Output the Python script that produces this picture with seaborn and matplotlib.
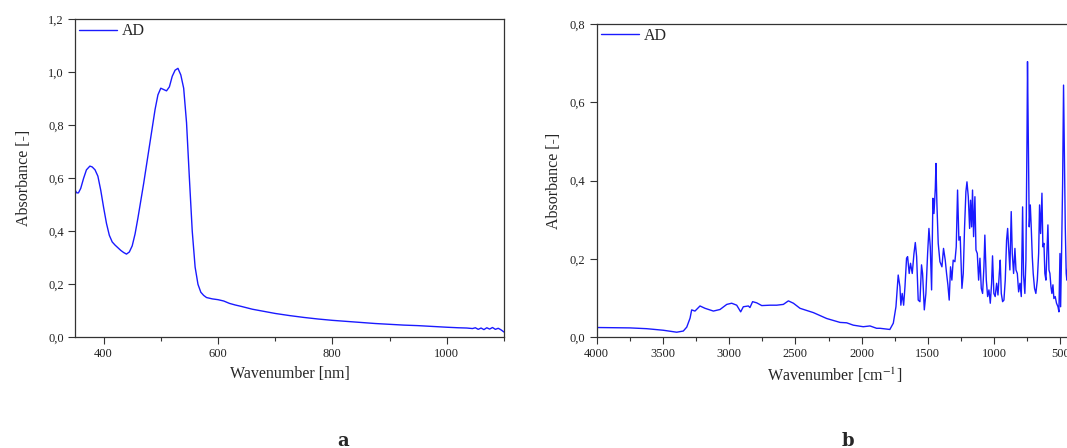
import numpy as np
import pandas as pd
import matplotlib
matplotlib.use("Agg")
import matplotlib.pyplot as plt
import seaborn as sns
from matplotlib.ticker import MultipleLocator, FuncFormatter

# --- UV-Vis spectrum (panel a) ---
uv_wavelength = [350, 353, 356, 360, 365, 370, 376, 380, 385, 390, 395, 400, 405, 410, 415,
                 420, 425, 430, 435, 440, 445, 450, 455, 460, 465, 470, 475, 480, 485, 490,
                 495, 500, 505, 510, 515, 520, 525, 530, 535, 540, 545, 550, 555, 560, 565,
                 570, 575, 580, 590, 600, 610, 620, 630, 640, 660, 680, 700, 725, 750, 775,
                 800, 825, 850, 875, 900, 925, 950, 975, 1000, 1020, 1035, 1045, 1050, 1055,
                 1060, 1065, 1070, 1075, 1080, 1085, 1090, 1095, 1100]
uv_absorbance = [0.556, 0.545, 0.545, 0.562, 0.600, 0.632, 0.646, 0.643, 0.632, 0.608, 0.555,
                 0.490, 0.430, 0.385, 0.360, 0.348, 0.338, 0.328, 0.320, 0.314, 0.322, 0.345,
                 0.390, 0.450, 0.515, 0.580, 0.650, 0.720, 0.790, 0.860, 0.915, 0.940, 0.935,
                 0.930, 0.945, 0.985, 1.008, 1.015, 0.990, 0.940, 0.810, 0.600, 0.400, 0.265,
                 0.200, 0.170, 0.158, 0.150, 0.145, 0.142, 0.137, 0.128, 0.122, 0.117, 0.106,
                 0.098, 0.090, 0.082, 0.075, 0.069, 0.064, 0.060, 0.056, 0.052, 0.049, 0.046,
                 0.044, 0.041, 0.038, 0.036, 0.035, 0.033, 0.036, 0.030, 0.035, 0.029, 0.036,
                 0.031, 0.037, 0.030, 0.034, 0.028, 0.020]

# --- FTIR spectrum (panel b) ---
ir_wavenumber = [4000, 3749, 3623, 3497, 3396, 3346, 3320, 3295, 3283, 3258, 3220, 3182, 3119,
                 3069, 3018, 2981, 2943, 2913, 2893, 2855, 2843, 2823, 2792, 2754, 2691, 2641,
                 2591, 2553, 2515, 2465, 2364, 2264, 2163, 2113, 2063, 1988, 1937, 1887, 1862,
                 1787, 1761, 1741, 1724, 1711, 1704, 1694, 1683, 1673, 1661, 1653, 1641, 1631,
                 1618, 1605, 1595, 1585, 1573, 1560, 1548, 1540, 1527, 1515, 1502, 1492, 1482,
                 1472, 1462, 1454, 1444, 1439, 1432, 1422, 1409, 1394, 1382, 1369, 1359, 1349,
                 1339, 1329, 1319, 1309, 1296, 1286, 1276, 1266, 1256, 1243, 1233, 1223, 1213,
                 1205, 1195, 1185, 1178, 1170, 1163, 1155, 1145, 1137, 1127, 1117, 1107, 1097,
                 1087, 1077, 1070, 1059, 1049, 1039, 1029, 1019, 1012, 1002, 992, 981, 971, 961,
                 954, 946, 936, 926, 916, 906, 898, 891, 881, 871, 863, 853, 843, 835, 825, 815,
                 805, 795, 785, 778, 768, 760, 752, 748, 742, 735, 727, 720, 712, 705, 695, 685,
                 674, 664, 657, 649, 639, 632, 624, 617, 609, 602, 594, 586, 579, 571, 564, 556,
                 549, 539, 529, 518, 511, 503, 498, 491, 483, 476, 471, 463, 456, 451, 440, 430,
                 420, 410, 400]
ir_absorbance = [0.025, 0.024, 0.022, 0.018, 0.013, 0.016, 0.026, 0.049, 0.070, 0.067, 0.080,
                 0.074, 0.067, 0.071, 0.084, 0.087, 0.082, 0.065, 0.078, 0.080, 0.076, 0.091,
                 0.088, 0.081, 0.082, 0.082, 0.084, 0.093, 0.087, 0.074, 0.063, 0.048, 0.038,
                 0.037, 0.031, 0.027, 0.029, 0.023, 0.023, 0.020, 0.036, 0.078, 0.159, 0.129,
                 0.082, 0.112, 0.082, 0.129, 0.202, 0.206, 0.163, 0.189, 0.163, 0.214, 0.242,
                 0.206, 0.095, 0.091, 0.185, 0.163, 0.070, 0.112, 0.214, 0.278, 0.231, 0.121,
                 0.355, 0.316, 0.380, 0.444, 0.342, 0.240, 0.193, 0.180, 0.227, 0.197, 0.163,
                 0.134, 0.095, 0.180, 0.146, 0.197, 0.193, 0.231, 0.376, 0.248, 0.257, 0.125,
                 0.163, 0.282, 0.372, 0.397, 0.359, 0.278, 0.350, 0.282, 0.376, 0.257, 0.359,
                 0.223, 0.214, 0.146, 0.202, 0.125, 0.112, 0.180, 0.261, 0.146, 0.104, 0.121,
                 0.087, 0.138, 0.208, 0.112, 0.104, 0.138, 0.108, 0.163, 0.197, 0.112, 0.091,
                 0.095, 0.146, 0.248, 0.278, 0.231, 0.172, 0.321, 0.214, 0.163, 0.227, 0.172,
                 0.163, 0.116, 0.138, 0.104, 0.333, 0.159, 0.112, 0.197, 0.504, 0.704, 0.504,
                 0.282, 0.338, 0.282, 0.206, 0.163, 0.125, 0.112, 0.146, 0.214, 0.338, 0.265,
                 0.368, 0.231, 0.240, 0.163, 0.146, 0.214, 0.287, 0.172, 0.163, 0.129, 0.112,
                 0.134, 0.099, 0.104, 0.087, 0.078, 0.065, 0.214, 0.078, 0.214, 0.393, 0.644,
                 0.504, 0.282, 0.163, 0.146, 0.200, 0.260, 0.180, 0.150, 0.140]

LINE_COLOR = "#1a1aff"
SPINE_COLOR = "#333333"

sns.set_style("ticks")
plt.rcParams["font.family"] = ["Liberation Serif", "DejaVu Serif"]
plt.rcParams["mathtext.fontset"] = "stix"

comma_fmt = FuncFormatter(lambda v, pos: f"{v:.1f}".replace(".", ","))

fig = plt.figure(figsize=(10.67, 4.48), dpi=100)
ax1 = fig.add_axes([0.0703, 0.2471, 0.402, 0.7098])
ax2 = fig.add_axes([0.5592, 0.2471, 0.447, 0.6993])

uv_df = pd.DataFrame({"x": uv_wavelength, "y": uv_absorbance})
ir_df = pd.DataFrame({"x": ir_wavenumber, "y": ir_absorbance})

sns.lineplot(data=uv_df, x="x", y="y", ax=ax1, color=LINE_COLOR, lw=1.0, label="AD")
sns.lineplot(data=ir_df, x="x", y="y", ax=ax2, color=LINE_COLOR, lw=1.0, label="AD")

ax1.set_xlim(350, 1100)
ax1.set_ylim(0, 1.2)
ax1.xaxis.set_major_locator(MultipleLocator(200))
ax1.xaxis.set_minor_locator(MultipleLocator(100))
ax1.yaxis.set_major_locator(MultipleLocator(0.2))
ax1.set_xlabel("Wavenumber [nm]", fontsize=11.5)

ax2.set_xlim(4000, 400)
ax2.set_ylim(0, 0.8)
ax2.xaxis.set_major_locator(MultipleLocator(500))
ax2.xaxis.set_minor_locator(MultipleLocator(250))
ax2.yaxis.set_major_locator(MultipleLocator(0.2))
ax2.set_xlabel("Wavenumber [cm$^{-1}$]", fontsize=11.5)

for ax, pad in ((ax1, 12), (ax2, 6)):
    ax.yaxis.set_major_formatter(comma_fmt)
    ax.set_ylabel("Absorbance [-]", fontsize=11.5, labelpad=pad)
    ax.tick_params(axis="both", which="major", direction="out", length=5, width=0.8,
                   labelsize=9, pad=3, colors=SPINE_COLOR, labelcolor="#222222")
    ax.tick_params(axis="x", which="minor", direction="out", length=3, width=0.8,
                   colors=SPINE_COLOR)
    for side in ("top", "right", "left", "bottom"):
        ax.spines[side].set_visible(True)
        ax.spines[side].set_color(SPINE_COLOR)
        ax.spines[side].set_linewidth(0.9)
    ax.legend(loc="upper left", bbox_to_anchor=(0, 1), frameon=False, fontsize=11.5,
              handlelength=2.4, handletextpad=0.3, borderaxespad=0.0, borderpad=0.25)

fig.text(343 / 1067, 1 - 446 / 448, "a", ha="center", va="baseline",
         fontsize=13, weight="bold", family="DejaVu Serif")
fig.text(848 / 1067, 1 - 446 / 448, "b", ha="center", va="baseline",
         fontsize=13, weight="bold", family="DejaVu Serif")

fig.savefig("out.png", dpi=100)
